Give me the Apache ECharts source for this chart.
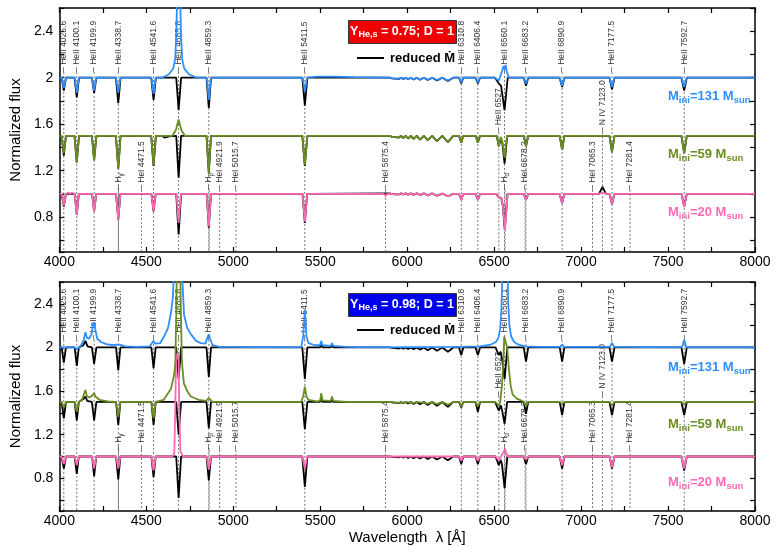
<!DOCTYPE html>
<html><head><meta charset="utf-8">
<script src="https://cdn.jsdelivr.net/npm/echarts/dist/echarts.min.js"></script>
<style>html,body{margin:0;padding:0;background:#fff}#c{width:776px;height:546px}</style>
</head><body><div id="c"></div>
<script>
const FONT = "'Liberation Sans', Arial, Helvetica, sans-serif";
const WAVE_MIN = 4000, WAVE_MAX = 8000, FLUX_MIN = 0.5, FLUX_MAX = 2.6;
const BLUE = '#2f8fff', GREEN = '#6b8e23', PINK = '#ff69b4';

// ---- line identifications ----
const markWave = [4025.6, 4100.1, 4199.9, 4338.7, 4541.6, 4685.8, 4859.3, 5411.5, 6310.8, 6406.4, 6560.1, 6683.2, 6890.9, 7177.5, 7592.7,
  6527.1, 7123.0,
  4340.5, 4471.5, 4861.3, 4921.9, 5015.7, 5875.4, 6562.8, 6678.2, 7065.3, 7281.4];
const markName = ['HeII 4025.6', 'HeII 4100.1', 'HeII 4199.9', 'HeII 4338.7', 'HeII 4541.6', 'HeII 4685.8', 'HeII 4859.3', 'HeII 5411.5', 'HeII 6310.8', 'HeII 6406.4', 'HeII 6560.1', 'HeII 6683.2', 'HeII 6890.9', 'HeII 7177.5', 'HeII 7592.7',
  'HeII 6527', 'N IV 7123.0',
  'H{s|γ}', 'HeI 4471.5', 'H{s|β}', 'HeI 4921.9', 'HeI 5015.7', 'HeI 5875.4', 'H{s|α}', 'HeI 6678.2', 'HeI 7065.3', 'HeI 7281.4'];
const markRow = [0,0,0,0,0,0,0,0,0,0,0,0,0,0,0, 1,1, 2,2,2,2,2,2,2,2,2,2];
const rowBaseTop = [2.05, 1.53, 1.035];
const rowBaseBottom = [2.07, 1.555, 1.06];

// ---- spectra, top panel (Y_He,s = 0.75), flat [wavelength, flux, ...] ----
const topBlue = [4000,2, 4013,2, 4025.6,1.91, 4038,2, 4088,2, 4100.1,1.87, 4112,2, 4188,2, 4199.9,1.89, 4212,2, 4326,2, 4338.7,1.87, 4351,2, 4529,2, 4541.6,1.86, 4554,2,
  4590,2, 4630,2.03, 4655,2.08, 4666,2.16, 4673,2.4, 4680,2.9, 4686,3.4, 4692,2.9, 4699,2.4, 4706,2.16, 4718,2.08, 4745,2.03, 4790,2,
  4847,2, 4859.3,1.81, 4871,2, 5399,2, 5411.5,1.88, 5424,2, 5480,2.01, 5580,2.01, 5700,2.005, 5900,2,
  5913,1.995, 5922,2, 5932,1.993, 5942,2, 5953,1.992, 5965,2, 5977,1.99, 5991,2, 6005,1.988, 6021,2, 6037,1.986, 6055,2, 6074,1.984, 6096,2, 6118,1.982, 6144,2, 6171,1.98, 6202,2, 6234,1.976, 6265,2,
  6299,2, 6310.8,1.96, 6322,2, 6394,2, 6406.4,1.96, 6418,2,
  6505,2, 6527,1.975, 6538,1.99, 6546,2.06, 6554,2.1, 6560.1,2.07, 6566,2.11, 6573,2.05, 6585,2,
  6671,2, 6683.2,1.95, 6695,2, 6878,2, 6890.9,1.93, 6903,2, 7164,2, 7177.5,1.92, 7191,2, 7578,2, 7592.7,1.92, 7607,2, 8000,2];
const topBlueReduced = [4000,2, 4013,2, 4025.6,1.89, 4038,2, 4087,2, 4100.1,1.83, 4113,2, 4187,2, 4199.9,1.87, 4213,2, 4325,2, 4338.7,1.78, 4352,2, 4528,2, 4541.6,1.81, 4555,2,
  4672,2, 4685.8,1.72, 4700,2, 4846,2, 4859.3,1.74, 4872,2, 5397,2, 5411.5,1.76, 5426,2,
  5900,2, 5913,1.995, 5922,2, 5932,1.993, 5942,2, 5953,1.99, 5965,2, 5977,1.988, 5991,2, 6005,1.986, 6021,2, 6037,1.984, 6055,2, 6074,1.982, 6096,2, 6118,1.98, 6144,2, 6171,1.977, 6202,2, 6234,1.972, 6265,2,
  6298,2, 6310.8,1.95, 6323,2, 6393,2, 6406.4,1.95, 6419,2, 6505,2, 6527,1.95, 6540,1.93, 6560.1,1.72, 6578,2,
  6670,2, 6683.2,1.93, 6696,2, 6877,2, 6890.9,1.92, 6904,2, 7163,2, 7177.5,1.9, 7192,2, 7577,2, 7592.7,1.89, 7608,2, 8000,2];
const topGreen = [4000,1.5, 4013,1.5, 4025.6,1.35, 4038,1.5, 4087,1.5, 4100.1,1.27, 4113,1.5, 4187,1.5, 4199.9,1.29, 4213,1.5, 4325,1.5, 4338.7,1.22, 4352,1.5, 4528,1.5, 4541.6,1.25, 4555,1.5,
  4650,1.5, 4670,1.55, 4685.8,1.64, 4701,1.55, 4722,1.5, 4846,1.5, 4859.3,1.18, 4872,1.5, 5397,1.5, 5411.5,1.25, 5426,1.5,
  5900,1.5, 5913,1.49, 5922,1.5, 5932,1.488, 5942,1.5, 5953,1.485, 5965,1.5, 5977,1.48, 5991,1.5, 6005,1.477, 6021,1.5, 6037,1.473, 6055,1.5, 6074,1.468, 6096,1.5, 6118,1.462, 6144,1.5, 6171,1.455, 6202,1.5, 6234,1.445, 6265,1.5,
  6298,1.5, 6310.8,1.44, 6323,1.5, 6394,1.5, 6406.4,1.44, 6419,1.5, 6515,1.5, 6527,1.41, 6539,1.49, 6547,1.45, 6560.1,1.31, 6574,1.5,
  6670,1.5, 6683.2,1.41, 6696,1.5, 6877,1.5, 6890.9,1.38, 6904,1.5, 7163,1.5, 7177.5,1.36, 7192,1.5, 7577,1.5, 7592.7,1.35, 7608,1.5, 8000,1.5];
const topGreenReduced = [4000,1.5, 4013,1.5, 4025.6,1.33, 4038,1.5, 4087,1.5, 4100.1,1.27, 4113,1.5, 4187,1.5, 4199.9,1.29, 4213,1.5, 4325,1.5, 4338.7,1.22, 4352,1.5, 4528,1.5, 4541.6,1.24, 4555,1.5,
  4590,1.5, 4605,1.485, 4630,1.495, 4672,1.5, 4685.8,1.14, 4700,1.5, 4846,1.5, 4859.3,1.18, 4872,1.5, 5397,1.5, 5411.5,1.24, 5426,1.5,
  5900,1.5, 5913,1.49, 5922,1.5, 5932,1.488, 5942,1.5, 5953,1.485, 5965,1.5, 5977,1.48, 5991,1.5, 6005,1.477, 6021,1.5, 6037,1.473, 6055,1.5, 6074,1.468, 6096,1.5, 6118,1.462, 6144,1.5, 6171,1.455, 6202,1.5, 6234,1.445, 6265,1.5,
  6298,1.5, 6310.8,1.44, 6323,1.5, 6394,1.5, 6406.4,1.44, 6419,1.5, 6515,1.5, 6527,1.41, 6539,1.48, 6547,1.44, 6560.1,1.26, 6575,1.5,
  6670,1.5, 6683.2,1.41, 6696,1.5, 6877,1.5, 6890.9,1.38, 6904,1.5, 7163,1.5, 7177.5,1.36, 7192,1.5, 7577,1.5, 7592.7,1.35, 7608,1.5, 8000,1.5];
const topPink = [4000,1, 4013,1, 4025.6,0.9, 4038,1, 4050,1.012, 4062,1.002, 4074,1.01, 4088,1, 4100.1,0.82, 4112,1, 4188,1, 4199.9,0.85, 4212,1, 4326,1, 4338.7,0.78, 4351,1,
  4463,1, 4471.5,0.99, 4480,1, 4529,1, 4541.6,0.85, 4554,1, 4673,1, 4685.8,0.75, 4699,1, 4847,1, 4859.3,0.72, 4872,1, 5398,1, 5411.5,0.76, 5425,1, 5866,1, 5875.4,0.98, 5885,1,
  5900,1.005, 5913,0.998, 5922,1.005, 5932,0.997, 5942,1.005, 5953,0.996, 5965,1.005, 5977,0.995, 5991,1.005, 6005,0.993, 6021,1.005, 6037,0.992, 6055,1.005, 6074,0.99, 6096,1.005, 6118,0.987, 6144,1.004, 6171,0.984, 6202,1.003, 6234,0.98, 6265,1,
  6298,1, 6310.8,0.95, 6323,1, 6394,1, 6406.4,0.95, 6419,1, 6512,1, 6527,0.97, 6541,0.965, 6550,0.9, 6562.8,0.69, 6577,1,
  6670,1, 6683.2,0.95, 6696,1, 6877,1, 6890.9,0.92, 6904,1, 7100,1, 7123,1.012, 7146,1, 7163,1, 7177.5,0.91, 7192,1, 7577,1, 7592.7,0.89, 7608,1, 8000,1];
const topPinkReduced = [4000,1, 4013,1, 4025.6,0.89, 4038,1, 4088,1, 4100.1,0.82, 4112,1, 4188,1, 4199.9,0.85, 4212,1, 4326,1, 4338.7,0.78, 4351,1, 4529,1, 4541.6,0.85, 4554,1,
  4672,1, 4685.8,0.65, 4700,1, 4847,1, 4859.3,0.71, 4872,1, 5398,1, 5411.5,0.75, 5425,1,
  5900,1.005, 5913,0.998, 5922,1.005, 5932,0.997, 5942,1.005, 5953,0.996, 5965,1.005, 5977,0.995, 5991,1.005, 6005,0.993, 6021,1.005, 6037,0.992, 6055,1.005, 6074,0.99, 6096,1.005, 6118,0.987, 6144,1.004, 6171,0.984, 6202,1.003, 6234,0.98, 6265,1,
  6298,1, 6310.8,0.95, 6323,1, 6394,1, 6406.4,0.95, 6419,1, 6512,1, 6527,0.97, 6541,0.965, 6550,0.9, 6561,0.69, 6577,1,
  6670,1, 6683.2,0.95, 6696,1, 6877,1, 6890.9,0.92, 6904,1, 7103,1, 7123,1.06, 7143,1, 7163,1, 7177.5,0.91, 7192,1, 7577,1, 7592.7,0.89, 7608,1, 8000,1];

// ---- spectra, bottom panel (Y_He,s = 0.98) ----
const botBlue = [4000,2, 4088,2, 4100.1,1.985, 4112,2, 4125,2.02, 4140,2.07, 4150,2.14, 4158,2.09, 4170,2.08, 4185,2.12, 4193,2.21, 4199.9,2.23, 4206,2.17, 4218,2.08, 4240,2.05, 4270,2.03, 4310,2.02, 4330,2.025, 4338.7,2.04, 4347,2.025, 4380,2.01, 4450,2.005,
  4520,2.01, 4533,2.04, 4541.6,2.06, 4550,2.035, 4560,2.02, 4580,2.04, 4602,2.1, 4625,2.18, 4642,2.32, 4652,2.45, 4660,2.7, 4672,3.3, 4700,3.3, 4708,2.6, 4717,2.3, 4735,2.18, 4757,2.12, 4785,2.06, 4814,2.04, 4840,2.035, 4851,2.09, 4859.3,2.12, 4867,2.08, 4880,2.02, 4920,2.005,
  5390,2, 5402,2.1, 5411.5,2.34, 5421,2.1, 5432,2.04, 5470,2.02, 5499,2.02, 5506,2.06, 5513,2.02, 5561,2.015, 5568,2.04, 5575,2.015, 5650,2.005, 5800,2, 6300,2.005,
  6420,2.01, 6480,2.025, 6510,2.05, 6525,2.09, 6535,2.17, 6542,2.35, 6548,2.7, 6562,3.3, 6576,2.8, 6581,2.4, 6588,2.2, 6598,2.1, 6615,2.05, 6640,2.025, 6680,2.01, 6760,2.005,
  6880,2.005, 6890.9,2.025, 6902,2.005, 7165,2.005, 7177.5,2.04, 7190,2.005, 7580,2, 7592.7,2.07, 7605,2, 8000,2];
const botBlueReduced = [4000,2, 4013,2, 4025.6,1.86, 4038,2, 4088,2, 4100.1,1.83, 4112,2, 4138,2.02, 4150,2.06, 4162,2.01, 4187,2, 4199.9,1.85, 4213,2, 4326,2, 4338.7,1.79, 4351,2, 4529,2, 4541.6,1.81, 4554,2,
  4672,2, 4685.8,1.71, 4700,2, 4846,2, 4859.3,1.73, 4872,2, 5397,2, 5411.5,1.71, 5426,2, 5499,2, 5506,2.03, 5513,2, 5561,2, 5568,2.025, 5575,2,
  5900,2, 5913,1.995, 5922,2, 5932,1.993, 5942,2, 5953,1.99, 5965,2, 5977,1.988, 5991,2, 6005,1.985, 6021,2, 6037,1.983, 6055,2, 6074,1.98, 6096,2, 6118,1.975, 6144,2, 6171,1.97, 6202,2, 6234,1.96, 6265,2,
  6298,2, 6310.8,1.93, 6323,2, 6393,2, 6406.4,1.93, 6419,2, 6508,2, 6527,1.93, 6537,1.96, 6545,1.9, 6560.1,1.71, 6576,2,
  6670,2, 6683.2,1.87, 6696,2, 6877,2, 6890.9,1.87, 6904,2, 7163,2, 7177.5,1.87, 7192,2, 7577,2, 7592.7,1.85, 7608,2, 8000,2];
const botGreen = [4000,1.5, 4013,1.5, 4025.6,1.45, 4038,1.5, 4088,1.5, 4100.1,1.41, 4112,1.5, 4130,1.52, 4143,1.58, 4150,1.61, 4158,1.555, 4172,1.54, 4190,1.56, 4199.9,1.58, 4208,1.55, 4230,1.52, 4280,1.505,
  4326,1.5, 4338.7,1.36, 4351,1.5, 4529,1.5, 4541.6,1.35, 4554,1.5, 4600,1.52, 4642,1.62, 4660,1.75, 4667,1.86, 4672,2.3, 4677,2.9, 4693,2.9, 4699,2.3, 4705,1.86, 4716,1.67, 4735,1.6, 4756,1.55, 4800,1.52, 4843,1.51, 4853,1.525, 4859.3,1.535, 4866,1.52, 4880,1.5,
  5390,1.5, 5402,1.55, 5411.5,1.64, 5421,1.55, 5432,1.52, 5480,1.505, 5499,1.51, 5506,1.58, 5513,1.515, 5561,1.51, 5568,1.55, 5575,1.51, 5650,1.5,
  5900,1.5, 5932,1.495, 5942,1.5, 5977,1.492, 5991,1.5, 6037,1.49, 6055,1.5, 6118,1.485, 6144,1.5, 6171,1.48, 6202,1.5, 6234,1.475, 6265,1.5,
  6298,1.5, 6310.8,1.46, 6323,1.5, 6393,1.5, 6406.4,1.46, 6419,1.5, 6505,1.5, 6520,1.48, 6527,1.46, 6535,1.5, 6545,1.65, 6552,1.85, 6558,2.1, 6566,2.1, 6575,2.0, 6585,1.8, 6595,1.65, 6606,1.57, 6630,1.53, 6660,1.51,
  6672,1.5, 6683.2,1.46, 6695,1.5, 6877,1.5, 6890.9,1.48, 6904,1.5, 7163,1.5, 7177.5,1.47, 7192,1.5, 7577,1.5, 7592.7,1.48, 7608,1.5, 8000,1.5];
const botGreenReduced = [4000,1.5, 4013,1.5, 4025.6,1.35, 4038,1.5, 4088,1.5, 4100.1,1.33, 4112,1.5, 4140,1.53, 4150,1.55, 4160,1.51, 4187,1.5, 4199.9,1.33, 4213,1.5, 4326,1.5, 4338.7,1.29, 4351,1.5, 4529,1.5, 4541.6,1.29, 4554,1.5,
  4672,1.5, 4685.8,1.2, 4700,1.5, 4846,1.5, 4859.3,1.26, 4872,1.5, 5397,1.5, 5411.5,1.25, 5426,1.5, 5499,1.5, 5506,1.53, 5513,1.5, 5561,1.5, 5568,1.52, 5575,1.5,
  5900,1.5, 5913,1.495, 5922,1.5, 5932,1.493, 5942,1.5, 5953,1.49, 5965,1.5, 5977,1.488, 5991,1.5, 6005,1.485, 6021,1.5, 6037,1.482, 6055,1.5, 6074,1.478, 6096,1.5, 6118,1.472, 6144,1.5, 6171,1.465, 6202,1.5, 6234,1.455, 6265,1.5,
  6298,1.5, 6310.8,1.45, 6323,1.5, 6393,1.5, 6406.4,1.41, 6419,1.5, 6505,1.5, 6527,1.42, 6538,1.47, 6545,1.43, 6560.1,1.3, 6575,1.5,
  6670,1.5, 6683.2,1.39, 6696,1.5, 6877,1.5, 6890.9,1.38, 6904,1.5, 7163,1.5, 7177.5,1.38, 7192,1.5, 7577,1.5, 7592.7,1.38, 7608,1.5, 8000,1.5];
const botPink = [4000,1, 4013,1, 4025.6,0.93, 4038,1, 4088,1, 4100.1,0.92, 4112,1, 4188,1, 4199.9,0.89, 4212,1, 4326,1, 4338.7,0.89, 4351,1, 4529,1, 4541.6,0.87, 4554,1,
  4650,1, 4661,1.03, 4666,1.4, 4671,1.88, 4679,1.95, 4686,1.88, 4690,1.4, 4696,1.05, 4710,1, 4847,1, 4859.3,0.88, 4872,1, 5398,1, 5411.5,0.89, 5425,1,
  6298,1, 6310.8,0.96, 6323,1, 6394,1, 6406.4,0.96, 6419,1, 6510,1, 6527,0.96, 6540,1, 6550,1.03, 6556,1.02, 6562.8,1.07, 6570,1.03, 6580,1,
  6670,1, 6683.2,0.97, 6696,1, 6877,1, 6890.9,0.92, 6904,1, 7163,1, 7177.5,0.9, 7192,1, 7577,1, 7592.7,0.89, 7608,1, 8000,1];
const botPinkReduced = [4000,1, 4013,1, 4025.6,0.89, 4038,1, 4088,1, 4100.1,0.84, 4112,1, 4188,1, 4199.9,0.82, 4212,1, 4326,1, 4338.7,0.79, 4351,1, 4529,1, 4541.6,0.81, 4554,1,
  4672,1, 4685.8,0.62, 4700,1, 4846,1, 4859.3,0.78, 4872,1, 5397,1, 5411.5,0.72, 5426,1,
  5900,1, 5913,0.996, 5922,1, 5932,0.994, 5942,1, 5953,0.992, 5965,1, 5977,0.99, 5991,1, 6005,0.987, 6021,1, 6037,0.985, 6055,1, 6074,0.982, 6096,1, 6118,0.978, 6144,1, 6171,0.972, 6202,1, 6234,0.965, 6265,1,
  6298,1, 6310.8,0.93, 6323,1, 6393,1, 6406.4,0.93, 6419,1, 6508,1, 6527,0.92, 6537,0.97, 6545,0.93, 6560.1,0.71, 6576,1,
  6670,1, 6683.2,0.93, 6696,1, 6877,1, 6890.9,0.89, 6904,1, 7163,1, 7177.5,0.89, 7192,1, 7577,1, 7592.7,0.87, 7608,1, 8000,1];

// ---- annotation texts ----
const panelTag = ['Y{s|He,s} = 0.75; D = 1', 'Y{s|He,s} = 0.98; D = 1'];
const tagColor = ['#ee0000', '#0000ee'];
const reducedLabel = 'reduced Ṁ';
const massLabels = ['M{s|ini}=131 M{s|sun}', 'M{s|ini}=59 M{s|sun}', 'M{s|ini}=20 M{s|sun}'];
const massColors = [BLUE, GREEN, PINK];

function pairs(flat) { const o = []; for (let i = 0; i < flat.length; i += 2) o.push([flat[i], flat[i + 1]]); return o; }

const chart = echarts.init(document.getElementById('c'), null, { renderer: 'canvas' });

const GRIDS = [{ left: 52, top: 8, width: 703, height: 244 }, { left: 52, top: 282, width: 703, height: 233 }];

function xAx(grid, pos, labels, name) {
  return {
    type: 'value', gridIndex: grid, position: pos, min: WAVE_MIN, max: WAVE_MAX, interval: 250,
    axisLine: { show: true, onZero: false, lineStyle: { color: '#000', width: 1.5 } },
    axisTick: { show: true, inside: true, length: 5, lineStyle: { color: '#000', width: 1.2 } },
    axisLabel: { show: labels, color: '#000', fontSize: 14, fontFamily: FONT, margin: 3,
      formatter: v => (v % 500 === 0 ? String(v) : '') },
    splitLine: { show: false },
    name: name || '', nameLocation: 'middle', nameGap: 19,
    nameTextStyle: { color: '#000', fontSize: 15, fontFamily: FONT }
  };
}
function yAx(grid, pos, labels) {
  return {
    type: 'value', gridIndex: grid, position: pos, min: FLUX_MIN, max: FLUX_MAX, splitNumber: 10,
    axisLine: { show: true, onZero: false, lineStyle: { color: '#000', width: 1.5 } },
    axisTick: { show: true, inside: true, length: 5, lineStyle: { color: '#000', width: 1.2 } },
    axisLabel: { show: labels, color: '#000', fontSize: 14, fontFamily: FONT, margin: 6,
      formatter: v => { const k = v / 0.4; return Math.abs(k - Math.round(k)) < 1e-6 ? String(+v.toFixed(1)) : ''; } },
    splitLine: { show: false },
    name: labels ? 'Normalized flux' : '', nameLocation: 'middle', nameGap: 29,
    nameTextStyle: { color: '#000', fontSize: 15, fontFamily: FONT }
  };
}

function markRender(rowBase) {
  return function (params, api) {
    const i = api.value(2);
    const w = api.value(0);
    const b = rowBase[markRow[i]];
    const p0 = api.coord([w, b]);
    const p1 = api.coord([w, FLUX_MIN]);
    return {
      type: 'group', children: [
        { type: 'line', shape: { x1: p0[0], y1: p0[1], x2: p1[0], y2: p1[1] },
          style: { stroke: '#555', lineWidth: 0.8, lineDash: [2, 2] } },
        { type: 'text', x: p0[0], y: p0[1], rotation: Math.PI / 2,
          style: { text: '– ' + markName[i], fill: '#333', fontSize: 8.5, fontFamily: FONT,
            align: 'left', verticalAlign: 'middle', textAlign: 'left', textVerticalAlign: 'middle',
            rich: { s: { fontSize: 6.5, fontFamily: FONT, fill: '#333', padding: [5, 0, 0, 0] } } } }
      ]
    };
  };
}
const markData = markWave.map((w, i) => [w, 0, i]);

function lineSeries(data, color, grid, z) {
  return { type: 'line', data: pairs(data), xAxisIndex: grid * 2, yAxisIndex: grid * 2, showSymbol: false, symbol: 'none',
    lineStyle: { color: color, width: 1.8 }, itemStyle: { color: color }, z: z, clip: true, silent: true };
}

const series = [
  { type: 'custom', xAxisIndex: 0, yAxisIndex: 0, renderItem: markRender(rowBaseTop), data: markData, z: 1, silent: true, clip: true },
  { type: 'custom', xAxisIndex: 2, yAxisIndex: 2, renderItem: markRender(rowBaseBottom), data: markData, z: 1, silent: true, clip: true },
  lineSeries(topBlueReduced, '#000', 0, 2), lineSeries(topGreenReduced, '#000', 0, 2), lineSeries(topPinkReduced, '#000', 0, 2),
  lineSeries(topPink, PINK, 0, 3), lineSeries(topGreen, GREEN, 0, 3), lineSeries(topBlue, BLUE, 0, 3),
  lineSeries(botBlueReduced, '#000', 1, 2), lineSeries(botGreenReduced, '#000', 1, 2), lineSeries(botPinkReduced, '#000', 1, 2),
  lineSeries(botPink, PINK, 1, 3), lineSeries(botGreen, GREEN, 1, 3), lineSeries(botBlue, BLUE, 1, 3)
];

const graphic = [];
const tagTop = [20, 293];
const reducedY = [58, 330];
const massY = [[96, 154, 212], [367, 424, 482]];
for (let p = 0; p < 2; p++) {
  graphic.push({ type: 'rect', left: 348, top: tagTop[p], shape: { width: 108, height: 23 },
    style: { fill: tagColor[p], stroke: '#333', lineWidth: 1 }, z: 10 });
  graphic.push({ type: 'text', x: 402, y: tagTop[p] + 12, z: 11,
    style: { text: panelTag[p], fill: '#fff', fontSize: 12.5, fontWeight: 'bold', fontFamily: FONT,
      align: 'center', verticalAlign: 'middle', textAlign: 'center', textVerticalAlign: 'middle',
      rich: { s: { fontSize: 9, fontWeight: 'bold', fontFamily: FONT, fill: '#fff', padding: [6, 0, 0, 0] } } } });
  graphic.push({ type: 'line', shape: { x1: 357, y1: reducedY[p], x2: 384, y2: reducedY[p] },
    style: { stroke: '#000', lineWidth: 2 }, z: 10 });
  graphic.push({ type: 'text', x: 390, y: reducedY[p], z: 11,
    style: { text: reducedLabel, fill: '#000', fontSize: 13, fontWeight: 'bold', fontFamily: FONT,
      align: 'left', verticalAlign: 'middle', textAlign: 'left', textVerticalAlign: 'middle' } });
  for (let k = 0; k < 3; k++) {
    graphic.push({ type: 'text', x: 668, y: massY[p][k], z: 11,
      style: { text: massLabels[k], fill: massColors[k], fontSize: 13, fontWeight: 'bold', fontFamily: FONT,
        align: 'left', verticalAlign: 'middle', textAlign: 'left', textVerticalAlign: 'middle',
        rich: { s: { fontSize: 9.5, fontWeight: 'bold', fontFamily: FONT, fill: massColors[k], padding: [8, 0, 0, 0] } } } });
  }
}

chart.setOption({
  animation: false,
  backgroundColor: '#fff',
  grid: GRIDS,
  xAxis: [xAx(0, 'bottom', true), xAx(0, 'top', false), xAx(1, 'bottom', true, 'Wavelength  λ [Å]'), xAx(1, 'top', false)],
  yAxis: [yAx(0, 'left', true), yAx(0, 'right', false), yAx(1, 'left', true), yAx(1, 'right', false)],
  series: series,
  graphic: graphic
});
</script></body></html>
